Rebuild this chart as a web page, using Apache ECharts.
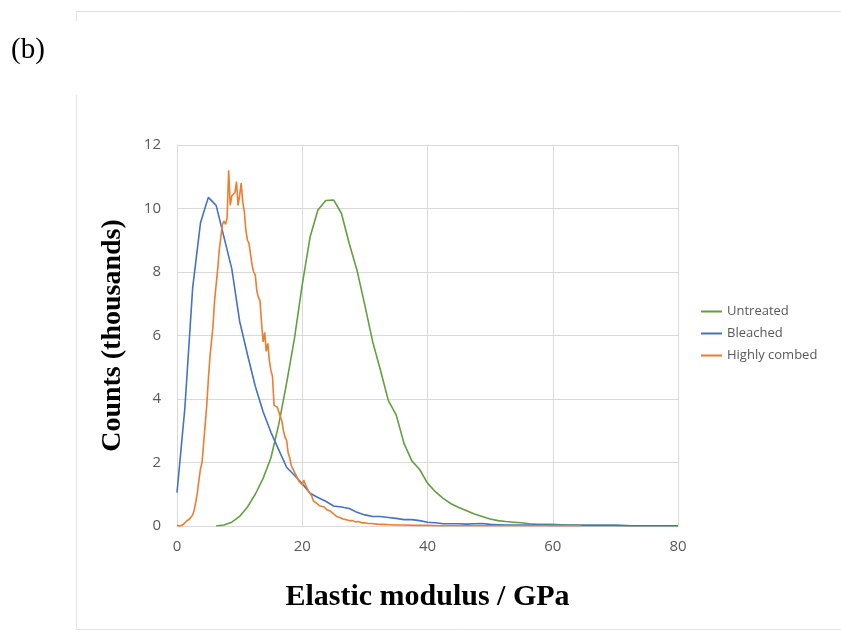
<!DOCTYPE html>
<html>
<head>
<meta charset="utf-8">
<script src="https://cdn.jsdelivr.net/npm/echarts@6/dist/echarts.min.js"></script>
<style>
  html, body { margin: 0; padding: 0; background: #fff; }
  #chart { width: 841px; height: 634px; }
</style>
</head>
<body>
<div id="chart"></div>
<script>
// values: [modulus GPa, counts (thousands)]
const seriesNames = ['Untreated', 'Bleached', 'Highly combed']
const seriesColors = ['#62a03f', '#4472c4', '#ed7d31']

const untreated = [
  [6.25, 0], [7.5, 0.03], [8.75, 0.12], [10, 0.3], [11.25, 0.6], [12.5, 1.0],
  [13.75, 1.5], [15, 2.15], [16.25, 3.2], [17.5, 4.5], [18.75, 5.9], [20, 7.6],
  [21.25, 9.1], [22.5, 9.95], [23.75, 10.25], [25, 10.27], [26.25, 9.85],
  [27.5, 8.9], [28.75, 8.05], [30, 6.95], [31.25, 5.8], [32.5, 4.9], [33.75, 3.95],
  [35, 3.5], [36.25, 2.6], [37.5, 2.05], [38.75, 1.78], [40, 1.35], [41.25, 1.08],
  [42.5, 0.87], [43.75, 0.7], [45, 0.58], [46.25, 0.48], [47.5, 0.38], [48.75, 0.3],
  [50, 0.22], [51.25, 0.17], [52.5, 0.14], [53.75, 0.12], [55, 0.1], [56.25, 0.07],
  [57.5, 0.05], [58.75, 0.05], [60, 0.05], [61.25, 0.04], [62.5, 0.03], [63.75, 0.03],
  [65, 0.02], [67.5, 0.02], [70, 0.02], [72.5, 0.01], [75, 0.01], [77.5, 0.01], [80, 0.01]
]

const bleached = [
  [0, 1.05], [1.25, 3.7], [2.5, 7.5], [3.75, 9.55], [5, 10.35], [6.25, 10.1],
  [7.5, 9.1], [8.75, 8.1], [10, 6.45], [11.25, 5.4], [12.5, 4.4], [13.75, 3.6],
  [15, 2.95], [16.25, 2.4], [17.5, 1.85], [18.75, 1.6], [20, 1.33], [21.25, 1.03],
  [22.5, 0.9], [23.75, 0.78], [25, 0.63], [26.25, 0.6], [27.5, 0.55], [28.75, 0.43],
  [30, 0.35], [31.25, 0.3], [32.5, 0.3], [33.75, 0.27], [35, 0.24], [36.25, 0.2],
  [37.5, 0.2], [38.75, 0.17], [40, 0.12], [41.25, 0.1], [42.5, 0.07], [43.75, 0.07],
  [45, 0.07], [46.25, 0.06], [47.5, 0.07], [48.75, 0.08], [50, 0.05], [51.25, 0.04],
  [52.5, 0.03], [55, 0.03], [57.5, 0.03], [60, 0.02], [62.5, 0.02], [65, 0.02],
  [67.5, 0.02], [70, 0.02], [72.5, 0.01], [75, 0.01], [77.5, 0.01], [80, 0.01]
]

const highlyCombed = [
  [0, 0.02], [0.25, 0], [0.5, 0], [0.75, 0.02], [1, 0.05], [1.25, 0.1], [1.5, 0.15],
  [1.75, 0.2], [2, 0.22], [2.25, 0.28], [2.5, 0.35], [2.75, 0.5], [3, 0.75],
  [3.25, 1.05], [3.5, 1.45], [3.75, 1.8], [4, 2.0], [4.25, 2.6], [4.5, 3.2],
  [4.75, 3.8], [5, 4.6], [5.25, 5.3], [5.5, 5.8], [5.75, 6.3], [6, 7.1], [6.25, 7.6],
  [6.5, 8.1], [6.75, 8.7], [7, 9.1], [7.25, 9.5], [7.5, 9.6], [7.75, 9.5], [8, 9.7],
  [8.25, 11.2], [8.5, 10.1], [8.75, 10.4], [9, 10.45], [9.25, 10.5], [9.5, 10.85],
  [9.75, 10.1], [10, 10.4], [10.25, 10.8], [10.5, 10.2], [10.75, 9.9], [11, 9.3],
  [11.25, 9.0], [11.5, 8.9], [11.75, 8.85], [12, 8.2], [12.25, 8.0], [12.5, 7.9],
  [12.75, 7.4], [13, 7.2], [13.25, 7.1], [13.5, 6.4], [13.75, 5.8], [14, 6.1],
  [14.25, 5.5], [14.5, 5.75], [14.75, 5.2], [15, 4.9], [15.25, 4.7], [15.5, 3.8],
  [15.75, 3.8], [16, 3.75], [16.25, 3.7], [16.5, 3.45], [16.75, 3.3], [17, 3.0],
  [17.25, 2.8], [17.5, 2.7], [17.75, 2.3], [18, 2.15], [18.25, 1.9], [18.5, 1.85],
  [18.75, 1.7], [19, 1.6], [19.25, 1.5], [19.5, 1.4], [19.75, 1.35], [20, 1.3],
  [20.25, 1.45], [20.5, 1.3], [20.75, 1.2], [21, 1.1], [21.25, 1.05], [21.5, 0.95],
  [21.75, 0.8], [22, 0.85], [22.25, 0.72], [22.5, 0.75], [22.75, 0.64], [23, 0.66],
  [23.5, 0.6], [24, 0.5], [24.5, 0.47], [25, 0.38], [25.5, 0.3], [26, 0.27],
  [26.5, 0.22], [27, 0.2], [27.5, 0.17], [28, 0.17], [28.5, 0.13], [29, 0.14],
  [29.5, 0.1], [30, 0.1], [30.5, 0.08], [31, 0.08], [32, 0.06], [33, 0.05],
  [34, 0.04], [35, 0.03], [36, 0.03], [38, 0.02], [40, 0.02], [42, 0.01],
  [45, 0.01], [50, 0.01], [55, 0.01], [60, 0.01], [64.5, 0.01]
]

const seriesData = [untreated, bleached, highlyCombed]

const chart = echarts.init(document.getElementById('chart'))

const frame = '#d9d9d9'
const tickColor = '#595959'
const serif = '"Liberation Serif", "DejaVu Serif", serif'

chart.setOption({
  animation: false,
  backgroundColor: '#fff',
  grid: { left: 177, right: 163, top: 145, bottom: 108 },
  legend: {
    orient: 'vertical',
    left: 696,
    top: 300,
    icon: 'rect',
    itemWidth: 21,
    itemHeight: 2,
    itemGap: 9,
    textStyle: { color: tickColor, fontSize: 13, fontFamily: 'Open Sans' },
    data: seriesNames
  },
  xAxis: {
    type: 'value',
    min: 0,
    max: 80,
    interval: 20,
    name: 'Elastic modulus / GPa',
    nameLocation: 'middle',
    nameGap: 56,
    nameTextStyle: { color: '#000', fontSize: 30, fontWeight: 'bold', fontFamily: serif },
    axisLine: { show: true, lineStyle: { color: frame } },
    axisTick: { show: false },
    axisLabel: { color: tickColor, fontSize: 15, margin: 13, fontFamily: 'Open Sans' },
    splitLine: { show: true, lineStyle: { color: frame } }
  },
  yAxis: {
    type: 'value',
    min: 0,
    max: 12,
    interval: 2,
    name: 'Counts (thousands)',
    nameLocation: 'middle',
    nameGap: 50,
    nameTextStyle: { color: '#000', fontSize: 28, fontWeight: 'bold', fontFamily: serif },
    axisLine: { show: true, lineStyle: { color: frame } },
    axisTick: { show: false },
    axisLabel: { color: tickColor, fontSize: 15, margin: 16, fontFamily: 'Open Sans' },
    splitLine: { show: true, lineStyle: { color: frame } }
  },
  graphic: [
    {
      type: 'text', left: 11, top: 36,
      style: { text: '(b)', font: '29px ' + serif, fill: '#000' }
    },
    { type: 'line', shape: { x1: 76, y1: 11.5, x2: 841, y2: 11.5 }, style: { stroke: '#e3e3e3', lineWidth: 1 } },
    { type: 'line', shape: { x1: 76.5, y1: 11, x2: 76.5, y2: 21 }, style: { stroke: '#e3e3e3', lineWidth: 1 } },
    { type: 'line', shape: { x1: 76.5, y1: 95, x2: 76.5, y2: 630 }, style: { stroke: '#e3e3e3', lineWidth: 1 } },
    { type: 'line', shape: { x1: 76, y1: 629.5, x2: 841, y2: 629.5 }, style: { stroke: '#e3e3e3', lineWidth: 1 } }
  ],
  series: seriesData.map((d, i) => ({
    name: seriesNames[i],
    type: 'line',
    data: d,
    symbol: 'none',
    lineStyle: { color: seriesColors[i], width: 1.6 },
    itemStyle: { color: seriesColors[i] }
  }))
})
</script>
</body>
</html>
